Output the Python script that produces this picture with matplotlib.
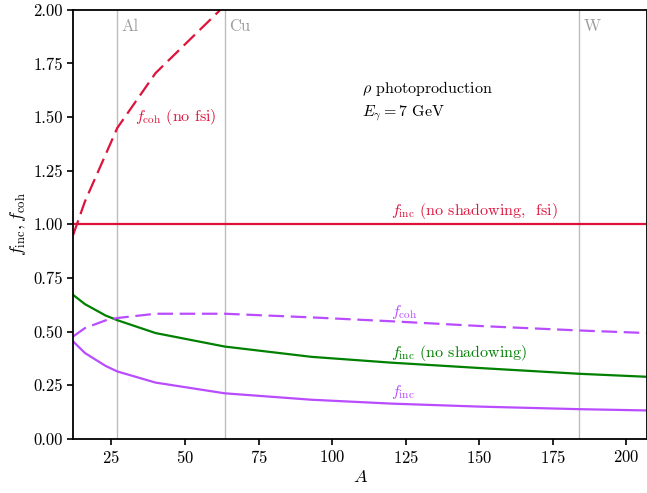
import matplotlib
matplotlib.use("Agg")
import matplotlib.pyplot as plt

plt.rcParams['font.family'] = 'serif'
plt.rcParams['font.serif'] = ['cmr10']
plt.rcParams['mathtext.fontset'] = 'cm'
plt.rcParams['axes.unicode_minus'] = False
plt.rcParams['axes.formatter.use_mathtext'] = True

# mass numbers of the computed nuclei
mass_numbers = [12, 16, 23, 27, 40, 63.5, 93, 120, 150, 184, 207]
f_inc_no_shadowing = [0.671, 0.628, 0.575, 0.553, 0.493, 0.430, 0.382, 0.355, 0.330, 0.303, 0.289]
f_inc = [0.454, 0.400, 0.340, 0.314, 0.262, 0.212, 0.182, 0.164, 0.150, 0.138, 0.132]
f_coh = [0.477, 0.516, 0.552, 0.563, 0.583, 0.583, 0.566, 0.548, 0.526, 0.505, 0.493]
mass_numbers_nofsi = [12, 16, 23, 27, 40, 63.5]
f_coh_no_fsi = [0.95, 1.106, 1.324, 1.449, 1.705, 2.02]
f_inc_no_shadowing_fsi = [1.0] * len(mass_numbers)

targets = ['Al', 'Cu', 'W']
target_mass = [27, 63.5, 184]

crimson = '#dc143c'
violet = '#b94cff'

fig = plt.figure(figsize=(6.47, 4.93), dpi=100)
ax = fig.add_axes([0.113, 0.11, 0.887, 0.87])

for name, a in zip(targets, target_mass):
    ax.axvline(a, color='#bdbdbd', lw=1.0, zorder=1)
    ax.text(a + 1.5, 1.925, name, color='#9e9e9e', fontsize=12, va='center', ha='left')

ax.plot(mass_numbers_nofsi, f_coh_no_fsi, color=crimson, lw=1.6, ls=(0, (7, 3)))
ax.plot(mass_numbers, f_inc_no_shadowing_fsi, color=crimson, lw=1.6)
ax.plot(mass_numbers, f_inc_no_shadowing, color='green', lw=1.6)
ax.plot(mass_numbers, f_coh, color=violet, lw=1.6, ls=(0, (7, 3)))
ax.plot(mass_numbers, f_inc, color=violet, lw=1.6)

ax.text(33, 1.5, r'$f_{\rm coh}$ (no fsi)', color=crimson, fontsize=11.5, va='center')
ax.text(110, 1.575, "$\\rho$ photoproduction\n$E_\\gamma = 7$ GeV", color='black',
        fontsize=11.5, va='center', linespacing=1.35)
ax.text(120, 1.06, r'$f_{\rm inc}$ (no shadowing,  fsi)', color=crimson, fontsize=11.5, va='center')
ax.text(120, 0.59, r'$f_{\rm coh}$', color=violet, fontsize=11.5, va='center')
ax.text(120, 0.40, r'$f_{\rm inc}$ (no shadowing)', color='green', fontsize=11.5, va='center')
ax.text(120, 0.22, r'$f_{\rm inc}$', color=violet, fontsize=11.5, va='center')

ax.set_xlim(12, 207)
ax.set_ylim(0, 2.0)
ax.set_xticks([25, 50, 75, 100, 125, 150, 175, 200])
ax.set_yticks([0, 0.25, 0.5, 0.75, 1.0, 1.25, 1.5, 1.75, 2.0])
ax.set_yticklabels([f'{v:.2f}' for v in ax.get_yticks()])
ax.tick_params(labelsize=12, width=1.2, length=4)
for s in ax.spines.values():
    s.set_linewidth(1.3)
ax.set_xlabel('$A$', fontsize=13, labelpad=2)
ax.set_ylabel(r'$f_{\rm inc}, f_{\rm coh}$', fontsize=13, labelpad=4)

fig.savefig('out.png', dpi=100)
